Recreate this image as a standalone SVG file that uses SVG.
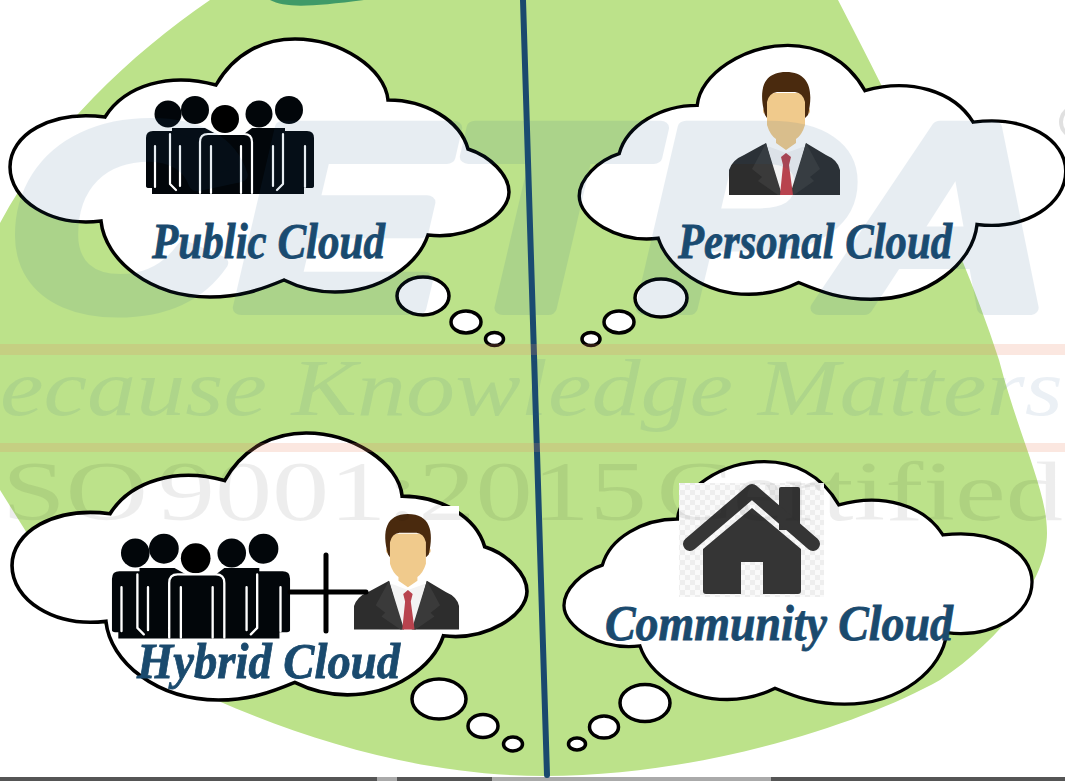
<svg xmlns="http://www.w3.org/2000/svg" width="1065" height="781" viewBox="0 0 1065 781">
<style>
.cloud{fill:#fff;stroke:#000;stroke-width:3.5;vector-effect:non-scaling-stroke;stroke-linejoin:miter}
.puff{fill:#fff;stroke:#000;stroke-width:3.5}
.label{font-family:"Liberation Serif","DejaVu Serif",serif;font-weight:bold;font-style:italic;font-size:50px;fill:#1a4a6e;stroke:#1a4a6e;stroke-width:0.8}
.slit{fill:none;stroke:#fff;stroke-width:2.2;stroke-linecap:round;stroke-linejoin:round}
.wm{font-family:"Liberation Serif",serif}
</style>
<defs>
<path id="cloudShape" d="M105,117C125,85 170,72 216,85C235,52 265,39 295,39C340,39 385,68 388,100C425,100 460,120 468,149C490,156 509,175 509,192C509,215 470,240 428,235C418,265 380,292 335,292C315,292 300,288 284,280C260,290 240,297 210,297C150,297 105,260 101,221C50,227 10,200 10,167C10,135 50,110 105,117Z"/>
<g id="people">
<path fill="#02060a" d="M146,186V138Q146,131 153,131H172V128H205L216,134H244L252,128H285V131H307Q314,131 314,138V186Q314,188 311,188H304V194H152V188H149Q146,188 146,186Z"/>
<circle cx="168" cy="114" r="13.500" fill="#02060a"/><circle cx="195" cy="110" r="14" fill="#02060a"/><circle cx="259" cy="114" r="13.500" fill="#02060a"/><circle cx="289" cy="110" r="14" fill="#02060a"/><circle cx="225" cy="119" r="14" fill="#000"/>
<path class="slit" d="M155,146V187M180,146V186M211,146V193M241,146V193M273,146V186M305,146V187"/>
<path class="slit" d="M200,193V142Q200,134 208,134H244Q252,134 252,142V193M170,134V184L176,190M283,134V184L277,190"/>
</g>
<g id="man">
<path fill="#f3f3f3" d="M45,80L66,88L88,80L100,130H35Z"/>
<circle cx="46" cy="46" r="3" fill="#e8bd80"/><circle cx="87" cy="46" r="3" fill="#e8bd80"/>
<path fill="#f0ca8c" d="M47,35Q47,28 55,28H78Q85,28 85,35V60Q82,70 76,74V78L66,85L56,78V74Q50,70 47,60Z"/>
<path fill="#4a2a0e" d="M45,50C38,25 43,7 66,7C89,7 94,25 88,50L85,53V37Q83,28 75,27H57Q49,28 47,37V53Z"/>
<path fill="#2d2d2d" d="M9,130V105Q12,95 24,90L46,78L60,130ZM120,130V105Q118,95 106,90L86,78L72,130Z"/>
<path fill="#3a3a3a" d="M46,78L32,104L42,112L38,116L58,130H62ZM86,78L100,104L90,112L94,116L74,130H70Z"/>
<path fill="#b8434e" d="M61,92L66,88L71,92L69,100L73,130H60L63,100Z"/>
</g>
<pattern id="check" width="10" height="10" patternUnits="userSpaceOnUse"><rect width="10" height="10" fill="#fafafa"/><rect width="5" height="5" fill="#eeeeee"/><rect x="5" y="5" width="5" height="5" fill="#eeeeee"/></pattern>
</defs>
<rect width="1065" height="781" fill="#fff"/>
<g id="background">
<path fill="#bce28a" d="M210,0H838C900,120 960,240 999,360C1020,440 1047,490 1047,533C1047,580 1000,640 940,680C860,725 700,776 545,776C430,776 320,745 216,700C150,665 60,600 25,530L0,490V223C50,130 130,55 210,0Z"/>
<path fill="#3f9a68" d="M270,0C285,8 310,7 364,0Z"/>
<rect y="777" width="1065" height="4" fill="#555"/>
<rect x="377" y="777" width="20" height="4" fill="#aaa"/>
<rect x="492" y="777" width="279" height="4" fill="#aaa"/>
</g>
<g id="connectors">
<path d="M523,0L547,775" fill="none" stroke="#1a4a6e" stroke-width="6" stroke-linecap="round"/>
</g>
<g id="node-public">
<use href="#cloudShape" class="cloud"/>
<ellipse class="puff" cx="423" cy="296" rx="26" ry="19"/><ellipse class="puff" cx="466" cy="322" rx="15" ry="11"/><ellipse class="puff" cx="494.500" cy="339" rx="9" ry="6.500"/>
<use href="#people"/>
<text class="label" x="152" y="258" textLength="233" lengthAdjust="spacingAndGlyphs">Public Cloud</text>
</g>
<g id="node-personal">
<use href="#cloudShape" class="cloud" transform="matrix(-0.975 0 0 0.984 1075.500 7)"/>
<ellipse class="puff" cx="661" cy="298" rx="26" ry="19"/><ellipse class="puff" cx="619" cy="322" rx="15" ry="11"/><ellipse class="puff" cx="591" cy="339" rx="9" ry="6.500"/>
<use href="#man" transform="translate(720,65)"/>
<text class="label" x="678" y="258" textLength="274" lengthAdjust="spacingAndGlyphs">Personal Cloud</text>
</g>
<g id="node-hybrid">
<use href="#cloudShape" class="cloud" transform="matrix(1.032 0 0 1.035 1.700 392.600)"/>
<ellipse class="puff" cx="439" cy="699" rx="27" ry="20"/><ellipse class="puff" cx="483" cy="726" rx="15" ry="11.500"/><ellipse class="puff" cx="513" cy="744" rx="9.500" ry="7"/>
<use href="#people" transform="matrix(1.06 0 0 1.07 -42.800 431)"/>
<rect x="354" y="506" width="105" height="124" fill="#fff"/>
<use href="#man" transform="matrix(0.946 0 0 0.94 345.500 507.400)"/>
<path d="M326,555V631M290,592H366" fill="none" stroke="#000" stroke-width="5" stroke-linecap="round"/>
<text class="label" x="137" y="678" textLength="263" lengthAdjust="spacingAndGlyphs">Hybrid Cloud</text>
</g>
<g id="node-community">
<use href="#cloudShape" class="cloud" transform="matrix(-0.938 0 0 0.94 1041.400 425)"/>
<ellipse class="puff" cx="645" cy="703" rx="25" ry="18.500"/><ellipse class="puff" cx="604" cy="727" rx="14.500" ry="11"/><ellipse class="puff" cx="577" cy="744" rx="8.500" ry="6"/>
<rect x="679" y="483" width="145" height="114" fill="url(#check)"/>
<path fill="#353535" d="M779,489Q779,487 781,487H798Q800,487 800,489V530H779Z"/>
<path fill="none" stroke="#353535" stroke-width="14" stroke-linejoin="round" stroke-linecap="round" d="M690,544L752,491L813,544"/>
<path fill="#353535" d="M703,549L752,508L801,549V591Q801,594 798,594H763V562H741V594H706Q703,594 703,591Z"/>
<text class="label" x="605" y="640" textLength="348" lengthAdjust="spacingAndGlyphs">Community Cloud</text>
</g>
<g id="watermark">
<g opacity="0.1"><text x="8" y="308" textLength="1045" lengthAdjust="spacingAndGlyphs" font-family="Liberation Sans,sans-serif" font-weight="bold" font-style="italic" font-size="262" fill="#1f5a8c" stroke="#1f5a8c" stroke-width="14" stroke-linejoin="round">CETPA</text></g>
<circle cx="1076" cy="122" r="15" fill="none" stroke="#000" stroke-opacity="0.12" stroke-width="4"/>
<rect y="344" width="1065" height="11" fill="#eb8764" fill-opacity="0.2"/>
<rect y="443" width="1065" height="9" fill="#eb8764" fill-opacity="0.2"/>
<text class="wm" x="0" y="415" textLength="1063" lengthAdjust="spacingAndGlyphs" font-style="italic" font-size="80" fill="#1f5a8c" fill-opacity="0.09">ecause Knowledge Matters</text>
<text class="wm" x="2" y="520" textLength="1061" lengthAdjust="spacingAndGlyphs" word-spacing="-14" font-size="84" fill="#000" fill-opacity="0.07">SO 9001:2015 Certified</text>
</g>
</svg>
